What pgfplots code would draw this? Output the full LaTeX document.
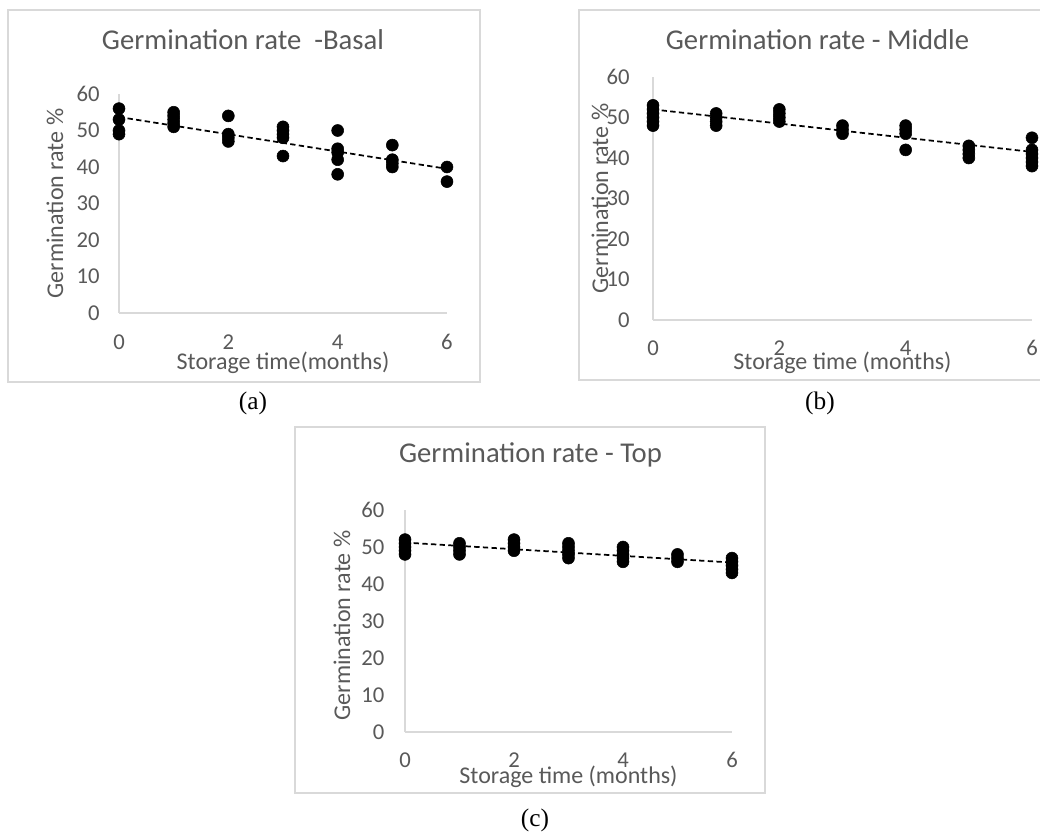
\documentclass[border=0pt]{standalone}
\usepackage{pgfplots}
\pgfplotsset{compat=1.18}
\usepackage{fontspec}
\setmainfont{Carlito}
\newfontfamily\capfont{Liberation Serif}
\definecolor{txtgray}{HTML}{595959}
\definecolor{linegray}{HTML}{D9D9D9}
\pgfplotsset{
  germ/.style={
    scale only axis,
    axis lines=left,
    axis line style={draw=linegray, line width=1pt, -},
    major tick length=0pt,
    xmin=0, xmax=6, ymin=0, ymax=60,
    xtick={0,2,4,6}, ytick={0,10,...,60},
    clip=false,
    /pgf/number format/assume math mode=true,
    tick label style={font=\fontsize{17}{20}\selectfont, text=txtgray},
    xticklabel style={anchor=center},
    yticklabel style={anchor=east},
    title style={font=\fontsize{21.5}{25}\selectfont, text=txtgray, anchor=center},
    label style={font=\fontsize{18}{22}\selectfont, text=txtgray},
    xlabel style={at={(axis description cs:0.5,0)}, anchor=center},
    ylabel style={anchor=center},
  },
  pts/.style={only marks, mark=*, mark size=4.5pt, black},
  trend/.style={black, line width=1.3pt, dash pattern=on 4pt off 2.5pt, no marks},
}
\begin{document}
\begin{tikzpicture}[x=0.75pt, y=0.75pt]
\useasboundingbox (0,0) rectangle (1040,833);
\fill[white] (0,0) rectangle (1040,833);
\coordinate (OA) at (119,520);
\coordinate (OB) at (653,513);
\coordinate (OC) at (405,101);
% frames
\draw[linegray, line width=1pt] (8,823) rectangle (480,451);
\draw[linegray, line width=1pt] (579,823) rectangle (1060,453);
\draw[linegray, line width=1pt] (295,406) rectangle (765,40);
% (a) Basal
\begin{axis}[germ, at={(OA)}, anchor=south west, width=246pt, height=164.25pt,
  title={Germination rate \ -Basal},
  title style={at={(axis description cs:0.5,1)}, xshift=-30pt, yshift=34.5pt},
  xlabel={Storage time(months)}, xlabel style={yshift=-37.5pt},
  ylabel={Germination rate \%}, ylabel style={at={(axis description cs:-0.195,0.5)}},
  xticklabel style={yshift=-21.75pt}, yticklabel style={xshift=-11pt}]
\addplot[pts] coordinates {
 (0,56) (0,53) (0,50) (0,49)
 (1,55) (1,54) (1,53) (1,52) (1,51)
 (2,54) (2,49) (2,48) (2,47)
 (3,51) (3,50) (3,49) (3,48) (3,43)
 (4,50) (4,45) (4,44) (4,42) (4,38)
 (5,46) (5,42) (5,41) (5,40)
 (6,40) (6,36)};
\addplot[trend] coordinates {(0,53.7) (6,39.5)};
\end{axis}
% (b) Middle
\begin{axis}[germ, at={(OB)}, anchor=south west, width=284.25pt, height=182.25pt,
  title={Germination rate - Middle},
  title style={at={(axis description cs:0.5,1)}, xshift=-18.75pt, yshift=21.75pt},
  xlabel={Storage time (months)}, xlabel style={yshift=-32.25pt},
  ylabel={Germination rate \%}, ylabel style={at={(axis description cs:-0.14,0.5)}},
  xticklabel style={yshift=-21pt}, yticklabel style={xshift=-14pt}]
\addplot[pts] coordinates {
 (0,53) (0,52) (0,51) (0,50) (0,49) (0,48)
 (1,51) (1,50) (1,49) (1,48)
 (2,52) (2,51) (2,50) (2,49)
 (3,48) (3,47) (3,46)
 (4,48) (4,47) (4,46) (4,42)
 (5,43) (5,42) (5,41) (5,40)
 (6,45) (6,42) (6,41) (6,40) (6,39) (6,38)};
\addplot[trend] coordinates {(0,52) (6,41.5)};
\end{axis}
% (c) Top
\begin{axis}[germ, at={(OC)}, anchor=south west, width=245.25pt, height=166.5pt,
  title={Germination rate - Top},
  title style={at={(axis description cs:0.5,1)}, xshift=-28.5pt, yshift=35.25pt},
  xlabel={Storage time (months)}, xlabel style={yshift=-33.75pt},
  ylabel={Germination rate \%}, ylabel style={at={(axis description cs:-0.193,0.48)}},
  xticklabel style={yshift=-21pt}, yticklabel style={xshift=-12pt}]
\addplot[pts] coordinates {
 (0,52) (0,51) (0,50) (0,49) (0,48)
 (1,51) (1,50) (1,49) (1,48)
 (2,52) (2,51) (2,50) (2,49)
 (3,51) (3,50) (3,49) (3,48) (3,47)
 (4,50) (4,49) (4,48) (4,47) (4,46)
 (5,48) (5,47) (5,46)
 (6,47) (6,46) (6,45) (6,44) (6,43)};
\addplot[trend] coordinates {(0,51.2) (6,45.8)};
\end{axis}
% captions
\node[font=\capfont\fontsize{19}{22}\selectfont] at (253,430) {(a)};
\node[font=\capfont\fontsize{19}{22}\selectfont] at (820,430) {(b)};
\node[font=\capfont\fontsize{19}{22}\selectfont] at (535,13) {(c)};
\end{tikzpicture}
\end{document}
